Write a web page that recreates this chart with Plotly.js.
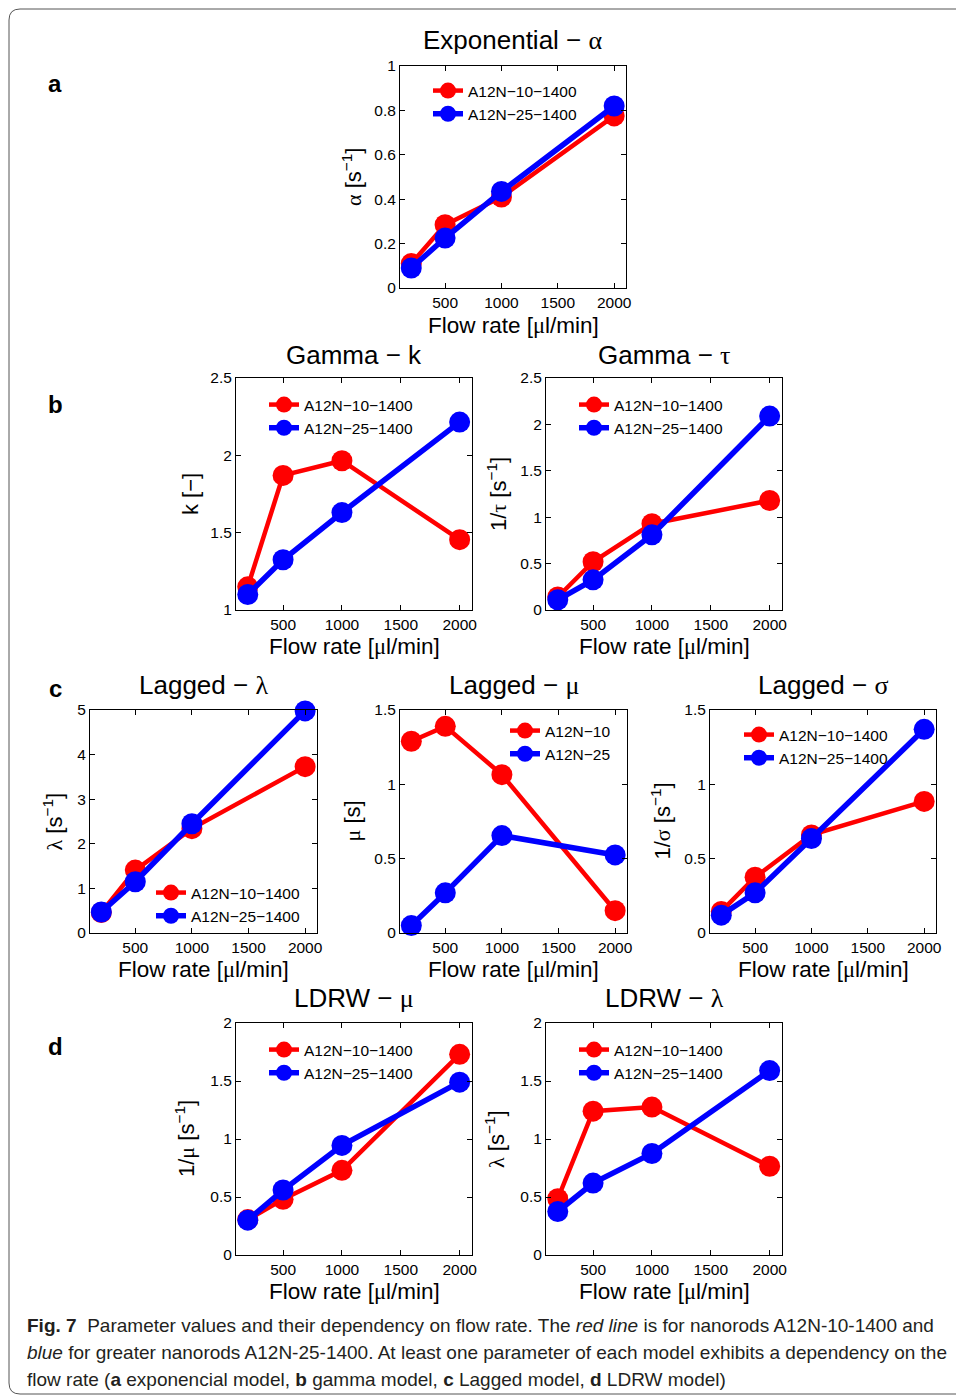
<!DOCTYPE html>
<html>
<head>
<meta charset="utf-8">
<script src="https://cdn.plot.ly/plotly-3.0.1.min.js"></script>
<style>
html,body{margin:0;padding:0;background:#fff;}
#chart{width:956px;height:1396px;}
</style>
</head>
<body>
<div id="chart"></div>
<script>
// ---------------- DATA ----------------
const flowRate = [200, 500, 1000, 2000];
const seriesNames = ['A12N−10−1400', 'A12N−25−1400'];
const shortNames = ['A12N−10', 'A12N−25'];
const xTicks = [500, 1000, 1500, 2000];

const expAlphaRed   = [0.11, 0.285, 0.41, 0.775];
const expAlphaBlue  = [0.09, 0.225, 0.435, 0.82];
const gammaKRed     = [1.15, 1.87, 1.965, 1.455];
const gammaKBlue    = [1.10, 1.325, 1.63, 2.215];
const gammaTauRed   = [0.14, 0.52, 0.93, 1.18];
const gammaTauBlue  = [0.11, 0.325, 0.81, 2.09];
const laggedLambdaRed  = [0.46, 1.41, 2.34, 3.73];
const laggedLambdaBlue = [0.47, 1.15, 2.45, 4.98];
const laggedMuRed      = [1.29, 1.39, 1.065, 0.15];
const laggedMuBlue     = [0.05, 0.27, 0.655, 0.525];
const laggedSigmaRed   = [0.145, 0.375, 0.66, 0.885];
const laggedSigmaBlue  = [0.12, 0.27, 0.635, 1.37];
const ldrwMuRed        = [0.305, 0.48, 0.73, 1.73];
const ldrwMuBlue       = [0.30, 0.56, 0.945, 1.49];
const ldrwLambdaRed    = [0.485, 1.24, 1.275, 0.765];
const ldrwLambdaBlue   = [0.375, 0.62, 0.875, 1.59];

// ---------------- LAYOUT HELPERS ----------------
const W = 956, H = 1396;
const FONT = 'Liberation Sans, Arial, Helvetica, sans-serif';
const GREEK = 'Liberation Serif, DejaVu Serif, serif';
const g = s => '<span style="font-family:' + GREEK + '">' + s + '</span>';
const fx = p => p / W;
const fy = p => 1 - p / H;
const RED = '#ff0000', BLUE = '#0000ff';

const panels = [
  {box:[400,626,66,288], yr:[0,1], dt:0.2, d:[expAlphaRed, expAlphaBlue], names:seriesNames,
   title:'Exponential − ' + g('α'), ty:40, ytitle:g('α') + ' [s<sup>−1</sup>]', ytx:352, xty:325,
   leg:[468, 74]},
  {box:[236,472,378,610], yr:[1,2.5], dt:0.5, d:[gammaKRed, gammaKBlue], names:seriesNames,
   title:'Gamma − k', ty:355, ytitle:'k [−]', ytx:190, xty:646, leg:[304, 388]},
  {box:[546,782,378,610], yr:[0,2.5], dt:0.5, d:[gammaTauRed, gammaTauBlue], names:seriesNames,
   title:'Gamma − ' + g('τ'), ty:355, ytitle:'1/' + g('τ') + ' [s<sup>−1</sup>]', ytx:497, xty:646, leg:[614, 388]},
  {box:[90,317,710,933], yr:[0,5], dt:1, d:[laggedLambdaRed, laggedLambdaBlue], names:seriesNames,
   title:'Lagged − ' + g('λ'), ty:685, ytitle:g('λ') + ' [s<sup>−1</sup>]', ytx:52, xty:969, leg:[191, 876]},
  {box:[400,627,710,933], yr:[0,1.5], dt:0.5, d:[laggedMuRed, laggedMuBlue], names:shortNames,
   title:'Lagged − ' + g('μ'), ty:685, ytitle:g('μ') + ' [s]', ytx:352, xty:969, leg:[545, 714]},
  {box:[710,936,710,933], yr:[0,1.5], dt:0.5, d:[laggedSigmaRed, laggedSigmaBlue], names:seriesNames,
   title:'Lagged − ' + g('σ'), ty:685, ytitle:'1/' + g('σ') + ' [s<sup>−1</sup>]', ytx:660, xty:969, leg:[779, 718]},
  {box:[236,472,1023,1255], yr:[0,2], dt:0.5, d:[ldrwMuRed, ldrwMuBlue], names:seriesNames,
   title:'LDRW − ' + g('μ'), ty:998, ytitle:'1/' + g('μ') + ' [s<sup>−1</sup>]', ytx:185, xty:1291, leg:[304, 1033]},
  {box:[546,782,1023,1255], yr:[0,2], dt:0.5, d:[ldrwLambdaRed, ldrwLambdaBlue], names:seriesNames,
   title:'LDRW − ' + g('λ'), ty:998, ytitle:g('λ') + ' [s<sup>−1</sup>]', ytx:495, xty:1291, leg:[614, 1033]}
];

const traces = [];
const layout = {
  width: W, height: H,
  margin: {l:0, r:0, t:0, b:0},
  paper_bgcolor: '#fff', plot_bgcolor: '#fff',
  font: {family: FONT, color: '#000'},
  showlegend: true,
  annotations: [],
  shapes: []
};

panels.forEach((p, i) => {
  const n = i + 1;
  const sfx = n === 1 ? '' : String(n);
  const legId = 'legend' + sfx;
  const colors = [RED, BLUE];
  const widths = [4.5, 5.5];
  p.d.forEach((vals, k) => {
    traces.push({
      type: 'scatter', mode: 'lines+markers',
      x: flowRate, y: vals, name: p.names[k],
      xaxis: 'x' + sfx, yaxis: 'y' + sfx,
      legend: legId,
      cliponaxis: false,
      line: {color: colors[k], width: widths[k]},
      marker: {color: colors[k], size: 21, symbol: 'circle'},
      hoverinfo: 'x+y'
    });
  });
  const axCommon = {
    showline: true, linecolor: '#000', linewidth: 1, mirror: 'ticks',
    ticks: 'inside', ticklen: 5, tickcolor: '#000', tickwidth: 1,
    showgrid: false, zeroline: false,
    tickfont: {family: FONT, size: 15.5, color: '#000'}
  };
  layout['xaxis' + sfx] = Object.assign({}, axCommon, {
    domain: [fx(p.box[0]), fx(p.box[1])], anchor: 'y' + sfx,
    range: [100, 2105], tickmode: 'array', tickvals: xTicks, ticktext: xTicks.map(String)
  });
  layout['yaxis' + sfx] = Object.assign({}, axCommon, {
    domain: [fy(p.box[3]), fy(p.box[2])], anchor: 'x' + sfx,
    range: p.yr, tick0: 0, dtick: p.dt
  });
  layout[legId] = {
    x: fx(p.leg[0] - 40), y: fy(p.leg[1]), xanchor: 'left', yanchor: 'top',
    bgcolor: 'rgba(0,0,0,0)', borderwidth: 0,
    font: {family: FONT, size: 15.5, color: '#000'}, tracegroupgap: 0
  };
  const cx = (p.box[0] + p.box[1]) / 2;
  layout.annotations.push({
    text: p.title, x: fx(cx), y: fy(p.ty), xref: 'paper', yref: 'paper',
    xanchor: 'center', yanchor: 'middle', showarrow: false,
    font: {family: FONT, size: 26, color: '#000'}
  });
  layout.annotations.push({
    text: 'Flow rate [' + g('μ') + 'l/min]', x: fx(cx), y: fy(p.xty), xref: 'paper', yref: 'paper',
    xanchor: 'center', yanchor: 'middle', showarrow: false,
    font: {family: FONT, size: 22.5, color: '#000'}
  });
  layout.annotations.push({
    text: p.ytitle, x: fx(p.ytx), y: fy((p.box[2] + p.box[3]) / 2), xref: 'paper', yref: 'paper',
    xanchor: 'center', yanchor: 'middle', showarrow: false, textangle: -90,
    font: {family: FONT, size: 22, color: '#000'}
  });
});

// panel letters
[['a', 84], ['b', 405], ['c', 688], ['d', 1046]].forEach(([t, yp]) => {
  layout.annotations.push({
    text: '<b>' + t + '</b>', x: fx(55), y: fy(yp), xref: 'paper', yref: 'paper',
    xanchor: 'center', yanchor: 'middle', showarrow: false,
    font: {family: FONT, size: 24, color: '#000'}
  });
});

// caption
const CAP = 'Liberation Sans, Arial, sans-serif';
const captionLines = [
  '<b>Fig. 7</b>  Parameter values and their dependency on flow rate. The <i>red line</i> is for nanorods A12N-10-1400 and',
  '<i>blue</i> for greater nanorods A12N-25-1400. At least one parameter of each model exhibits a dependency on the',
  'flow rate (<b>a</b> exponencial model, <b>b</b> gamma model, <b>c</b> Lagged model, <b>d</b> LDRW model)'
];
captionLines.forEach((t, i) => {
  layout.annotations.push({
    text: t, x: fx(25), y: fy(1325 + i * 27), xref: 'paper', yref: 'paper',
    xanchor: 'left', yanchor: 'middle', showarrow: false,
    font: {family: CAP, size: 19, color: '#231f20'}
  });
});

// rounded border frame
const bx0 = fx(9), bx1 = fx(980), r = 11;
layout.shapes.push({
  type: 'path', xref: 'paper', yref: 'paper',
  path: 'M ' + bx1 + ',' + fy(9) + ' L ' + fx(9 + r) + ',' + fy(9) +
        ' Q ' + bx0 + ',' + fy(9) + ' ' + bx0 + ',' + fy(9 + r) +
        ' L ' + bx0 + ',' + fy(1394 - r) +
        ' Q ' + bx0 + ',' + fy(1394) + ' ' + fx(9 + r) + ',' + fy(1394) +
        ' L ' + bx1 + ',' + fy(1394),
  line: {color: '#555', width: 1}
});

Plotly.newPlot('chart', traces, layout, {staticPlot: true, displayModeBar: false});
</script>
</body>
</html>
